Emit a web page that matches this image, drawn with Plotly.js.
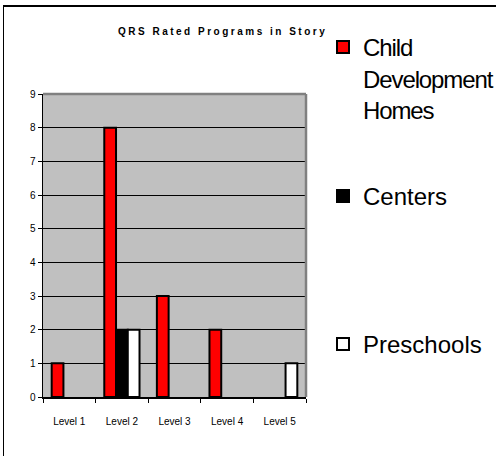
<!DOCTYPE html>
<html>
<head>
<meta charset="utf-8">
<script src="https://cdn.plot.ly/plotly-3.0.1.min.js"></script>
<style>
  html, body { margin: 0; padding: 0; background: #fff; }
  #wrap { position: relative; width: 496px; height: 456px; }
  #chart { width: 496px; height: 456px; }
  #frame { position: absolute; left: 3px; top: 5px; right: 0; bottom: 0;
           border-left: 1.5px solid #000; border-top: 2px solid #000; pointer-events: none; }
  .gtitle { letter-spacing: 2.5px; }
  .legendtext { letter-spacing: -1.1px; }
</style>
</head>
<body>
<div id="wrap">
  <div id="chart"></div>
  <div id="frame"></div>
</div>
<script>
const categories = ['Level 1', 'Level 2', 'Level 3', 'Level 4', 'Level 5'];
const seriesNames = ['Child<br>Development<br>Homes', 'Centers', 'Preschools'];
const childDevelopmentHomes = [1, 8, 3, 2, 0];
const centers = [0, 2, 0, 0, 0];
const preschools = [0, 2, 0, 0, 1];
const yTicks = [0, 1, 2, 3, 4, 5, 6, 7, 8, 9];

const colors = ['#FF0000', '#000000', '#FFFFFF'];
const values = [childDevelopmentHomes, centers, preschools];
const legends = ['legend', 'legend2', 'legend3'];

// zero-valued bars are not drawn (no outline line on the axis), as in the reference
const traces = values.map((v, i) => ({
  type: 'bar',
  x: categories,
  y: v.map(d => (d === 0 ? null : d)),
  name: seriesNames[i],
  legend: legends[i],
  marker: { color: colors[i], line: { color: '#000', width: 2 } },
  hoverinfo: 'x+y+name'
}));

const W = 496, H = 456;
const legendFont = { family: 'Liberation Sans, Arial, sans-serif', size: 24, color: '#000' };
function leg(topPx) {
  return {
    xref: 'container', yref: 'container',
    x: 323 / W, xanchor: 'left',
    y: 1 - topPx / H, yanchor: 'top',
    valign: 'top',
    bgcolor: 'rgba(0,0,0,0)', borderwidth: 0,
    font: legendFont
  };
}

const layout = {
  width: W, height: H,
  paper_bgcolor: '#fff',
  plot_bgcolor: '#C0C0C0',
  margin: { l: 43, r: 190, t: 94, b: 59, pad: 0 },
  font: { family: 'Liberation Sans, Arial, sans-serif', color: '#000', size: 10 },
  title: {
    text: 'QRS Rated Programs in Story',
    font: { family: 'Liberation Sans, Arial, sans-serif', size: 10, weight: 'bold', color: '#000' },
    xref: 'container', yref: 'container',
    x: 118 / W, xanchor: 'left',
    y: 1 - 31 / H, yanchor: 'middle'
  },
  barmode: 'group',
  bargap: 0.33,
  bargroupgap: 0,
  xaxis: {
    type: 'category',
    showline: true, linecolor: '#000', linewidth: 1.5,
    ticks: 'outside', tickson: 'boundaries', ticklen: 4, tickcolor: '#000', tickwidth: 1,
    ticklabelstandoff: 14,
    showgrid: false, zeroline: false,
    tickfont: { size: 10, color: '#000' },
    fixedrange: true
  },
  yaxis: {
    range: [0, 9],
    tickvals: yTicks,
    showline: true, linecolor: '#000', linewidth: 1.5,
    ticks: 'outside', ticklen: 4, tickcolor: '#000', tickwidth: 1,
    showgrid: true, gridcolor: '#000', gridwidth: 1,
    zeroline: false,
    tickfont: { size: 10, color: '#000' },
    fixedrange: true
  },
  shapes: [
    { type: 'line', xref: 'paper', yref: 'paper', x0: 0, x1: 1, y0: 1, y1: 1, line: { color: '#808080', width: 2.5 } },
    { type: 'line', xref: 'paper', yref: 'paper', x0: 1, x1: 1, y0: 0, y1: 1, line: { color: '#808080', width: 2.5 } }
  ],
  showlegend: true,
  legend: leg(25),
  legend2: leg(174),
  legend3: leg(322)
};

Plotly.newPlot('chart', traces, layout, { displayModeBar: false, staticPlot: true });
</script>
</body>
</html>
